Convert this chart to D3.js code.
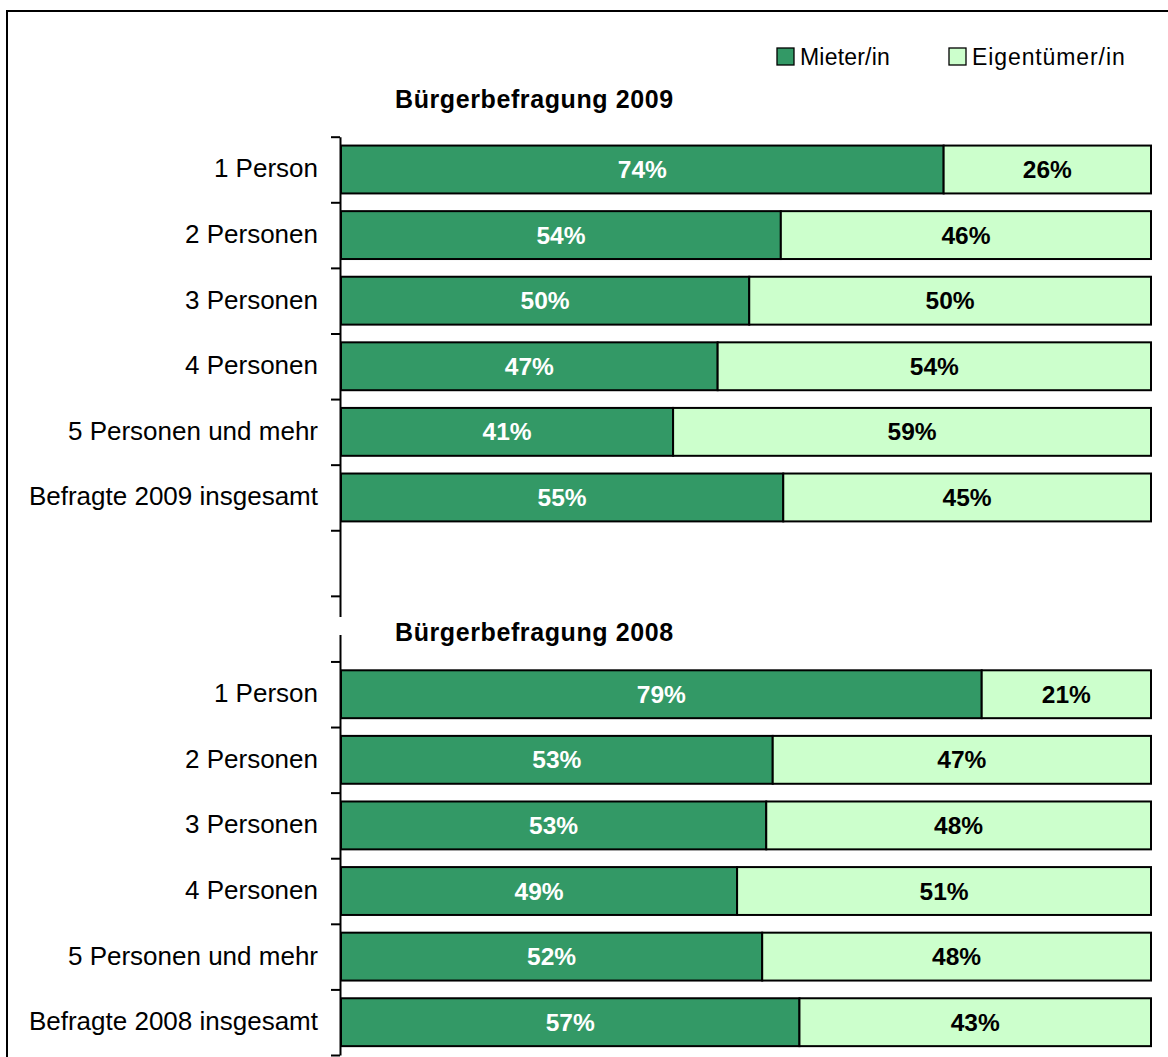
<!DOCTYPE html>
<html lang="de">
<head>
<meta charset="UTF-8">
<title>Mieter/Eigentümer nach Haushaltsgröße</title>
<script src="https://d3js.org/d3.v7.min.js"></script>
<style>
    body{margin:0;background:#fff;}
    svg{display:block;font-family:"Liberation Sans",Arial,sans-serif;}
</style>
</head>
<body>
<div id="chart"></div>
<script>
// Daten (Anteile in %, Beschriftung gerundet)
const series = ['Mieter/in','Eigentümer/in'];
const colors = ['#339966','#ccffcc'];
const labelColors = ['#ffffff','#000000'];
const groupTitles = ['Bürgerbefragung 2009','Bürgerbefragung 2008'];
const categories2009 = ['1 Person','2 Personen','3 Personen','4 Personen','5 Personen und mehr','Befragte 2009 insgesamt'];
const categories2008 = ['1 Person','2 Personen','3 Personen','4 Personen','5 Personen und mehr','Befragte 2008 insgesamt'];
const mieter2009 = [74.4,54.3,50.4,46.5,41.0,54.6];
const eigentuemer2009 = [25.6,45.7,49.6,53.5,59.0,45.4];
const mieter2008 = [79.1,53.3,52.5,48.9,52.0,56.6];
const eigentuemer2008 = [20.9,46.7,47.5,51.1,48.0,43.4];

// Zeilen: 2009, zwei Leerzeilen, 2008
const rows = [];
categories2009.forEach((c,i)=>rows.push({label:c,vals:[mieter2009[i],eigentuemer2009[i]]}));
rows.push({label:'',vals:null},{label:'',vals:null});
categories2008.forEach((c,i)=>rows.push({label:c,vals:[mieter2008[i],eigentuemer2008[i]]}));

const width = 1168, height = 1057;
const svg = d3.select('#chart').append('svg')
    .attr('width',width).attr('height',height);

// Rahmen
svg.append('rect')
    .attr('x',7).attr('y',11)
    .attr('width',width+20).attr('height',height+20)
    .attr('fill','none').attr('stroke','#000').attr('stroke-width',2);

const x = d3.scaleLinear().domain([0,1]).range([341,1151]);
const yTick = d3.scaleLinear().domain([0,rows.length]).range([136.7,1055]);
const y = d3.scaleBand().domain(d3.range(rows.length))
    .range([136.7,1055]).paddingInner(0.27).paddingOuter(0.135);

// Balken
rows.forEach((r,i)=>{
    if(!r.vals) return;
    const total = d3.sum(r.vals);
    let acc = 0;
    r.vals.forEach((v,k)=>{
        const x0 = x(acc/total), x1 = x((acc+v)/total);
        acc += v;
        svg.append('rect')
            .attr('x',x0).attr('y',y(i))
            .attr('width',x1-x0).attr('height',y.bandwidth())
            .attr('fill',colors[k]).attr('stroke','#000').attr('stroke-width',2);
        svg.append('text')
            .attr('x',(x0+x1)/2).attr('y',y(i)+y.bandwidth()/2)
            .attr('text-anchor','middle').attr('dominant-baseline','central')
            .attr('font-size','24.5px').attr('font-weight','bold')
            .attr('fill',labelColors[k])
            .text(Math.round(v)+'%');
    });
});

// Achse mit Teilstrichen zwischen den Kategorien
const axis = svg.append('g').attr('transform','translate(340,0)')
    .call(d3.axisLeft(yTick).ticks(rows.length).tickSize(9).tickSizeOuter(0).tickFormat(''));
axis.select('.domain').attr('stroke','#000').attr('stroke-width',2);
axis.selectAll('.tick line').attr('stroke','#000').attr('stroke-width',2);

// Kategorienbeschriftung
svg.append('g').selectAll('text')
    .data(rows)
    .join('text')
    .attr('x',318)
    .attr('y',(d,i)=>y(i)+y.bandwidth()/2 - 1)
    .attr('text-anchor','end').attr('dominant-baseline','central')
    .attr('font-size','26px')
    .attr('fill','#000')
    .text(d=>d.label);

// Gruppentitel
svg.append('rect').attr('x',338).attr('y',617).attr('width',6).attr('height',18).attr('fill','#fff');
svg.append('text')
    .attr('x',395).attr('y',yTick(-0.5)-5)
    .attr('dominant-baseline','central')
    .attr('font-size','25px').attr('font-weight','bold')
    .attr('letter-spacing','0.6px')
    .text(groupTitles[0]);
svg.append('text')
    .attr('x',395).attr('y',yTick(7.5)+3)
    .attr('dominant-baseline','central')
    .attr('font-size','25px').attr('font-weight','bold')
    .attr('letter-spacing','0.6px')
    .text(groupTitles[1]);

// Legende
const legendX = [777,949];
const legend = svg.append('g').selectAll('g')
    .data(series)
    .join('g')
    .attr('transform',(d,i)=>`translate(${legendX[i]},48)`);
legend.append('rect')
    .attr('width',17).attr('height',17)
    .attr('fill',(d,i)=>colors[i]).attr('stroke','#000').attr('stroke-width',1.3);
legend.append('text')
    .attr('x',23).attr('y',9)
    .attr('dominant-baseline','central')
    .attr('font-size','23px')
    .attr('letter-spacing',(d,i)=>i ? '0.9px' : '0.2px')
    .text(d=>d);
</script>
</body>
</html>
